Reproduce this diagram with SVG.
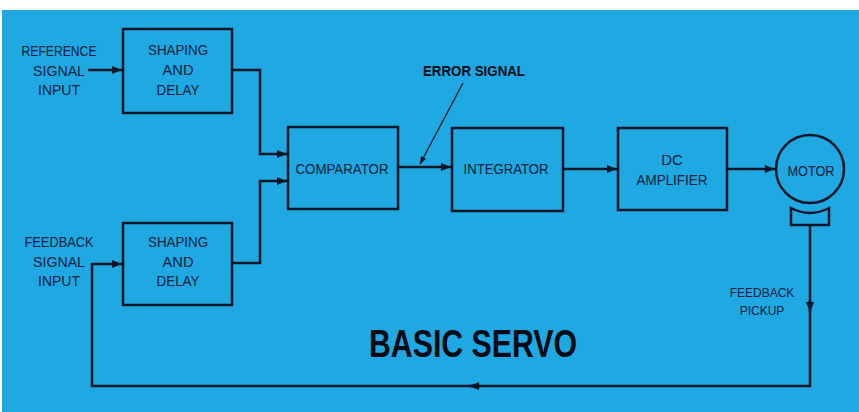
<svg xmlns="http://www.w3.org/2000/svg" width="859" height="412" viewBox="0 0 859 412">
<defs>
<marker id="arr" viewBox="0 0 10 8" refX="10" refY="4" markerWidth="10" markerHeight="8" markerUnits="userSpaceOnUse" orient="auto">
<path d="M0,0 L10,4 L0,8 Z" fill="#0c1626"/>
</marker>
<marker id="arrs" viewBox="0 0 10 8" refX="10" refY="4" markerWidth="8" markerHeight="6" markerUnits="userSpaceOnUse" orient="auto">
<path d="M0,0 L10,4 L0,8 Z" fill="#0c1626"/>
</marker>
</defs>
<style>
.box{fill:none;stroke:#0c1626;stroke-width:2.5}
.ln{fill:none;stroke:#0c1626;stroke-width:2.5}
.t{font-family:"Liberation Sans",Arial,sans-serif;font-size:15px;fill:#10213f;text-anchor:middle}
.s{font-size:12px}
.b{font-weight:bold;fill:#050a14}
</style>
<rect x="0" y="0" width="859" height="412" fill="#ffffff"/>
<rect x="2" y="10" width="857" height="402" fill="#1fa8e2"/>

<g id="ref-input">
<text class="t" x="59" y="56" textLength="75" lengthAdjust="spacingAndGlyphs">REFERENCE</text>
<text class="t" x="59" y="76" textLength="52" lengthAdjust="spacingAndGlyphs">SIGNAL</text>
<text class="t" x="59" y="95" textLength="42" lengthAdjust="spacingAndGlyphs">INPUT</text>
</g>
<g id="fb-input">
<text class="t" x="59" y="247" textLength="69" lengthAdjust="spacingAndGlyphs">FEEDBACK</text>
<text class="t" x="59" y="267" textLength="52" lengthAdjust="spacingAndGlyphs">SIGNAL</text>
<text class="t" x="59" y="286" textLength="42" lengthAdjust="spacingAndGlyphs">INPUT</text>
</g>
<g id="shaping1">
<rect class="box" x="123" y="29" width="109" height="84"/>
<text class="t" x="178" y="55" textLength="60" lengthAdjust="spacingAndGlyphs">SHAPING</text>
<text class="t" x="178" y="75" textLength="31" lengthAdjust="spacingAndGlyphs">AND</text>
<text class="t" x="178" y="95" textLength="43" lengthAdjust="spacingAndGlyphs">DELAY</text>
</g>
<g id="shaping2">
<rect class="box" x="123" y="223" width="109" height="82"/>
<text class="t" x="178" y="247" textLength="60" lengthAdjust="spacingAndGlyphs">SHAPING</text>
<text class="t" x="178" y="267" textLength="31" lengthAdjust="spacingAndGlyphs">AND</text>
<text class="t" x="178" y="286" textLength="43" lengthAdjust="spacingAndGlyphs">DELAY</text>
</g>
<g id="comparator">
<rect class="box" x="288" y="127" width="110" height="82"/>
<text class="t" x="342" y="174" textLength="93" lengthAdjust="spacingAndGlyphs">COMPARATOR</text>
</g>
<g id="integrator">
<rect class="box" x="452" y="128" width="111" height="83"/>
<text class="t" x="506" y="174" textLength="85" lengthAdjust="spacingAndGlyphs">INTEGRATOR</text>
</g>
<g id="dcamp">
<rect class="box" x="618" y="128" width="109" height="82"/>
<text class="t" x="672" y="165">DC</text>
<text class="t" x="672" y="185" textLength="71" lengthAdjust="spacingAndGlyphs">AMPLIFIER</text>
</g>
<g id="motor">
<circle class="box" cx="810" cy="169" r="34"/>
<text class="t" x="811" y="176" textLength="47" lengthAdjust="spacingAndGlyphs">MOTOR</text>
</g>
<g id="pickup">
<path class="box" d="M791,208 Q810,218 829,208 L829,225 L791,225 Z"/>
<text class="t s" x="762" y="297">FEEDBACK</text>
<text class="t s" x="762" y="315">PICKUP</text>
</g>
<g id="labels">
<text class="t b" x="474" y="76" textLength="102" lengthAdjust="spacingAndGlyphs">ERROR SIGNAL</text>
<text class="t b" x="473" y="357" style="font-size:38px" textLength="208" lengthAdjust="spacingAndGlyphs">BASIC SERVO</text>
</g>
<g id="connectors">
<line class="ln" x1="88" y1="70" x2="122" y2="70" marker-end="url(#arr)"/>
<polyline class="ln" points="232,70 260,70 260,154 287,154" marker-end="url(#arr)"/>
<polyline class="ln" points="232,263 260,263 260,181 287,181" marker-end="url(#arr)"/>
<line class="ln" x1="398" y1="167" x2="451" y2="167" marker-end="url(#arr)"/>
<line class="ln" x1="563" y1="169" x2="617" y2="169" marker-end="url(#arr)"/>
<line class="ln" x1="727" y1="169" x2="775" y2="169" marker-end="url(#arr)"/>
<line class="ln" x1="810" y1="226" x2="810" y2="312" marker-end="url(#arr)"/>
<polyline class="ln" points="810,300 810,386 470,386"/>
<line class="ln" x1="480" y1="386" x2="469" y2="386" marker-end="url(#arr)"/>
<polyline class="ln" points="470,386 92,386 92,264 122,264" marker-end="url(#arr)"/>
<line x1="463" y1="83" x2="420" y2="164" stroke="#0c1626" stroke-width="1.3" marker-end="url(#arrs)"/>
</g>
</svg>
